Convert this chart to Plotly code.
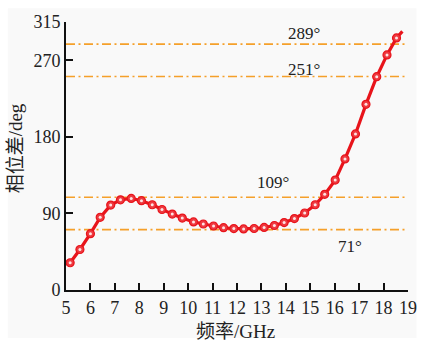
import plotly.graph_objects as go

# Frequency (GHz) and phase difference (deg)
freq = [5.17, 5.57, 6.00, 6.40, 6.83, 7.23, 7.67, 8.09, 8.53, 8.93, 9.35, 9.76,
        10.22, 10.62, 11.04, 11.45, 11.87, 12.27, 12.70, 13.11, 13.53, 13.93,
        14.35, 14.77, 15.20, 15.59, 16.02, 16.42, 16.85, 17.28, 17.72, 18.14, 18.53]
phase = [32.0, 47.6, 66.2, 85.4, 99.8, 106.0, 107.6, 105.0, 100.2, 94.6, 89.2, 84.5,
         80.0, 77.6, 75.2, 73.2, 72.2, 71.8, 72.3, 73.5, 75.8, 79.2,
         84.0, 90.5, 100.2, 112.4, 129.2, 154.1, 183.4, 218.2, 250.7, 276.3, 296.3]
# line continues a little past the last marker
tail_freq = [18.53, 18.77]
tail_phase = [296.3, 303.9]

ref_values = [289, 251, 109, 71]
ref_labels = ["289°", "251°", "109°", "71°"]
ref_label_x = [14.76, 14.76, 13.49, 16.61]
ref_label_y = [302, 259.5, 126.9, 51.4]

x_ticks = list(range(5, 20))
y_ticks = [0, 90, 180, 270, 315]

RED = "#e8141b"
ORANGE = "#f5a02a"
SERIF = "'Liberation Serif', 'DejaVu Serif', 'Noto Sans CJK SC', serif"

fig = go.Figure()

for v in ref_values:
    fig.add_trace(go.Scatter(
        x=[5, 18.95], y=[v, v], mode="lines",
        line=dict(color=ORANGE, width=1.6, dash="9px,3.5px,2px,3.5px"),
        hoverinfo="skip", showlegend=False))

fig.add_trace(go.Scatter(
    x=freq + tail_freq[1:], y=phase + tail_phase[1:], mode="lines",
    line=dict(color=RED, width=3.2), showlegend=False, hoverinfo="skip"))
fig.add_trace(go.Scatter(
    x=freq, y=phase, mode="markers",
    marker=dict(size=8, color="#ee3a40", line=dict(color=RED, width=1.2)),
    showlegend=False))
# small white highlight in each marker
fig.add_trace(go.Scatter(
    x=freq, y=phase, mode="markers",
    marker=dict(size=3, color="#fde4e4", line=dict(width=0)),
    showlegend=False, hoverinfo="skip"))

for lx, ly, lt in zip(ref_label_x, ref_label_y, ref_labels):
    fig.add_annotation(x=lx, y=ly, text=lt, showarrow=False,
                       xanchor="center", yanchor="middle",
                       font=dict(family=SERIF, size=17, color="#222"))

# axis titles
fig.add_annotation(xref="paper", yref="paper", x=0.496, y=-0.153,
                   xanchor="center", yanchor="middle",
                   text="频率/GHz", showarrow=False,
                   font=dict(family=SERIF, size=19, color="#222"))
fig.add_annotation(xref="paper", yref="paper", x=-0.145, y=0.53,
                   xanchor="center", yanchor="middle",
                   text="相位差/deg", textangle=-90, showarrow=False,
                   font=dict(family=SERIF, size=19, color="#222"))

fig.add_shape(type="rect", xref="paper", yref="paper",
              x0=-0.17, x1=1.025, y0=-0.179, y1=1.051,
              fillcolor="#f9f9f9", line=dict(width=0), layer="below")

fig.update_xaxes(range=[5, 19], tickvals=x_ticks, ticks="inside", ticklen=7,
                 tickwidth=2, tickcolor="#111", showline=True, linecolor="#111",
                 linewidth=2, showgrid=False, zeroline=False,
                 tickfont=dict(family=SERIF, size=18, color="#222"))
fig.update_yaxes(range=[0, 315], tickvals=y_ticks, ticks="inside", ticklen=7,
                 tickwidth=2, tickcolor="#111", showline=True, linecolor="#111",
                 linewidth=2, showgrid=False, zeroline=False,
                 tickfont=dict(family=SERIF, size=18, color="#222"))

fig.update_layout(width=429, height=343,
                  margin=dict(l=66, r=12, t=19, b=53),
                  paper_bgcolor="white", plot_bgcolor="rgba(0,0,0,0)")

fig.write_html("out.html")
